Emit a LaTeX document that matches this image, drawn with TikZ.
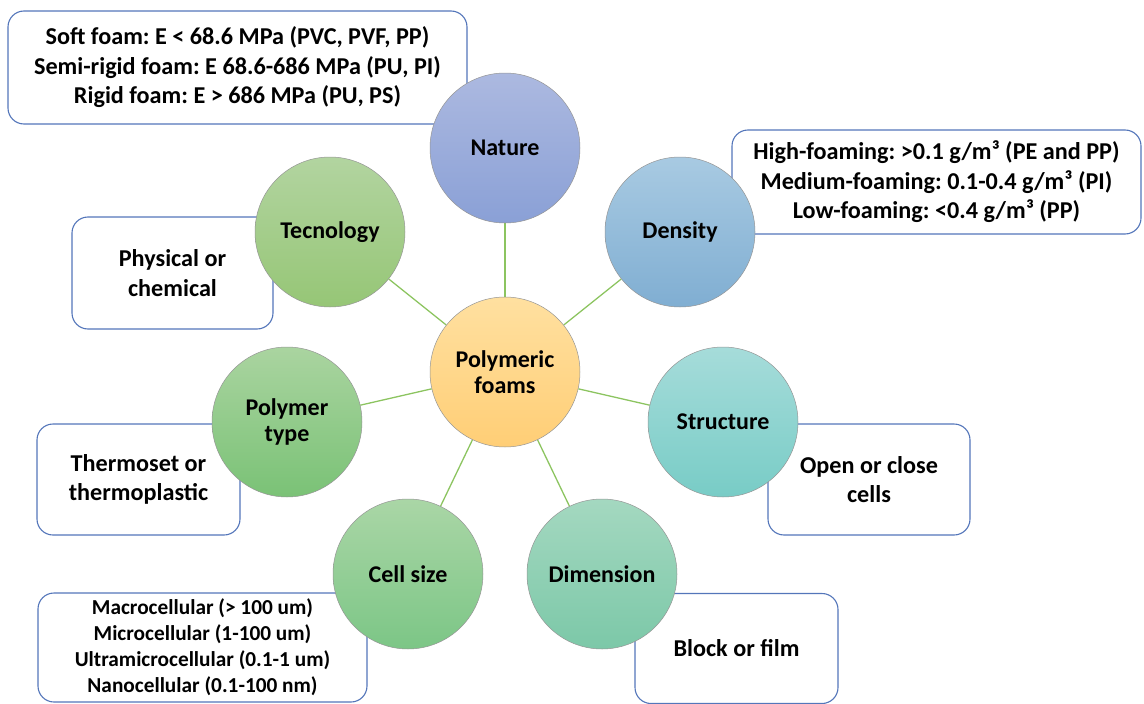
\documentclass[tikz,border=0pt]{standalone}
\usepackage{fontspec}
\setmainfont{Carlito}
\frenchspacing
\usetikzlibrary{backgrounds}
\definecolor{boxline}{RGB}{84,118,186}
\definecolor{linkgreen}{RGB}{140,196,96}
\definecolor{rimgray}{RGB}{150,150,150}
\tikzset{
  infobox/.style={draw=boxline, line width=1.1pt, rounded corners=16pt, fill=white,
    align=center, inner sep=0pt, font=\fontsize{24.2}{29.5}\selectfont\bfseries},
  smallbox/.style={infobox, font=\fontsize{21.3}{26}\selectfont\bfseries},
  topic/.style={circle, draw=rimgray, line width=0.5pt, minimum size=150pt, inner sep=0pt,
    align=center, font=\fontsize{24}{25.5}\selectfont\bfseries},
  link/.style={draw=linkgreen, line width=1.3pt}
}
\begin{document}
\begin{tikzpicture}[x=1pt,y=-1pt]
\useasboundingbox (0,0) rectangle (1144,704);

% description boxes
\node[infobox, minimum width=459pt, minimum height=113pt] (bnat) at (237.5,67.5)
  {Soft foam: E < 68.6 MPa (PVC, PVF, PP)\\Semi-rigid foam: E 68.6-686 MPa (PU, PI)\\Rigid foam: E > 686 MPa (PU, PS)};
\node[infobox, minimum width=409pt, minimum height=104pt] (bden) at (936.5,182)
  {High-foaming: >0.1 g/m³ (PE and PP)\\Medium-foaming: 0.1-0.4 g/m³ (PI)\\Low-foaming: <0.4 g/m³ (PP)};
\node[infobox, minimum width=201pt, minimum height=112pt] (btec) at (172.5,273)
  {Physical or\\chemical};
\node[infobox, minimum width=203pt, minimum height=111pt] (bpol) at (138.5,479.5)
  {Thermoset or\\thermoplastic};
\node[smallbox, minimum width=329pt, minimum height=109pt] (bcel) at (202.5,647.5)
  {Macrocellular (> 100 um)\\Microcellular (1-100 um)\\Ultramicrocellular (0.1-1 um)\\Nanocellular (0.1-100 nm)};
\node[infobox, minimum width=203pt, minimum height=110pt] (bdim) at (736.5,648.5)
  {Block or film};
\node[infobox, minimum width=202pt, minimum height=111pt] (bstr) at (869,479.5)
  {Open or close\\cells};

% topic circles
\node[topic, top color={rgb,255:red,255;green,224;blue,160}, bottom color={rgb,255:red,255;green,206;blue,118}] (core) at (505,372) {Polymeric\\foams};
\node[topic, top color={rgb,255:red,172;green,185;blue,224}, bottom color={rgb,255:red,138;green,160;blue,214}] (nat) at (505,148) {Nature};
\node[topic, top color={rgb,255:red,168;green,202;blue,226}, bottom color={rgb,255:red,128;green,174;blue,210}] (den) at (680,232) {Density};
\node[topic, top color={rgb,255:red,166;green,220;blue,218}, bottom color={rgb,255:red,120;green,204;blue,198}] (str) at (723,422) {Structure};
\node[topic, top color={rgb,255:red,164;green,216;blue,192}, bottom color={rgb,255:red,124;green,200;blue,168}] (dim) at (602,574) {Dimension};
\node[topic, top color={rgb,255:red,170;green,214;blue,166}, bottom color={rgb,255:red,124;green,198;blue,134}] (cel) at (408,574) {Cell size};
\node[topic, top color={rgb,255:red,170;green,212;blue,160}, bottom color={rgb,255:red,122;green,194;blue,118}] (pol) at (287,422) {Polymer\\type};
\node[topic, top color={rgb,255:red,178;green,212;blue,160}, bottom color={rgb,255:red,150;green,198;blue,118}] (tec) at (330,232) {Tecnology};

% spokes from the core to each topic
\begin{pgfonlayer}{background}
\foreach \t in {nat,den,str,dim,cel,pol,tec}
  \draw[link] (core) -- (\t);
\end{pgfonlayer}
\end{tikzpicture}
\end{document}
